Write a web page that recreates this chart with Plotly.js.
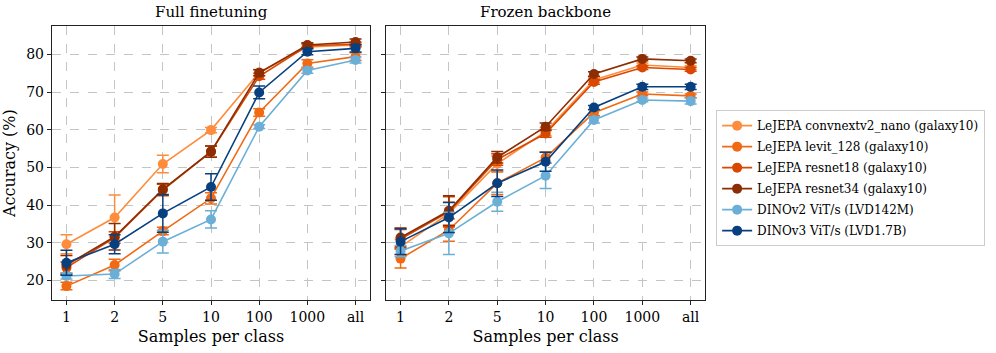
<!DOCTYPE html>
<html><head><meta charset="utf-8">
<script src="https://cdn.plot.ly/plotly-3.0.1.min.js"></script>
<style>body{margin:0;background:#fff}#plot{width:996px;height:353px}</style>
</head><body><div id="plot"></div>
<script>
const categories = ["1","2","5","10","100","1000","all"];
const seriesNames = ["LeJEPA convnextv2_nano (galaxy10)","LeJEPA levit_128 (galaxy10)","LeJEPA resnet18 (galaxy10)","LeJEPA resnet34 (galaxy10)","DINOv2 ViT/s (LVD142M)","DINOv3 ViT/s (LVD1.7B)"];
const colors = ["#fd8d3c","#f16913","#d94801","#8c2d04","#6baed6","#08407f"];

// Full finetuning
const ftConvnext = [29.6,36.7,50.9,59.9,75.2,82.0,82.5];
const ftLevit    = [18.5,24.1,33.1,41.8,64.6,77.6,79.4];
const ftRes18    = [23.4,31.4,44.0,54.2,74.2,82.3,82.7];
const ftRes34    = [24.1,31.6,44.2,54.2,75.1,82.5,83.3];
const ftDino2    = [21.2,21.7,30.3,36.2,60.8,75.7,78.5];
const ftDino3    = [24.7,29.6,37.8,44.8,69.9,80.7,81.6];
const ftConvnextErr = [2.5,6.0,2.3,0.7,0.8,0.6,0.6];
const ftLevitErr    = [1.0,1.5,1.0,1.5,1.0,1.0,1.0];
const ftRes18Err    = [1.5,1.5,1.5,1.5,0.8,0.6,0.6];
const ftRes34Err    = [2.5,3.5,1.5,1.5,0.8,0.6,0.8];
const ftDino2Err    = [0.8,1.2,3.0,2.3,0.5,0.7,0.8];
const ftDino3Err    = [3.3,2.5,5.0,3.5,1.7,0.8,1.0];

// Frozen backbone
const fzConvnext = [28.9,37.8,51.0,59.5,73.2,77.2,76.5];
const fzLevit    = [25.8,33.4,45.8,52.6,64.5,69.5,69.0];
const fzRes18    = [31.0,38.2,52.1,59.0,72.7,76.5,76.0];
const fzRes34    = [31.4,38.5,52.7,60.8,74.8,78.8,78.3];
const fzDino2    = [27.8,32.5,40.9,47.8,62.6,67.9,67.6];
const fzDino3    = [30.3,36.7,45.8,51.5,65.9,71.4,71.4];
const fzConvnextErr = [2.0,3.0,2.0,1.0,0.6,0.5,0.5];
const fzLevitErr    = [2.5,3.0,3.0,1.5,0.8,0.5,0.5];
const fzRes18Err    = [2.5,4.0,1.5,1.0,0.6,0.5,0.5];
const fzRes34Err    = [2.5,4.0,1.5,1.0,0.6,0.5,0.5];
const fzDino2Err    = [1.5,5.6,2.5,3.4,0.8,0.5,0.8];
const fzDino3Err    = [3.4,4.0,3.5,2.5,0.5,0.7,0.7];

const ftVals = [ftConvnext,ftLevit,ftRes18,ftRes34,ftDino2,ftDino3];
const ftErrs = [ftConvnextErr,ftLevitErr,ftRes18Err,ftRes34Err,ftDino2Err,ftDino3Err];
const fzVals = [fzConvnext,fzLevit,fzRes18,fzRes34,fzDino2,fzDino3];
const fzErrs = [fzConvnextErr,fzLevitErr,fzRes18Err,fzRes34Err,fzDino2Err,fzDino3Err];

const traces = [];
function add(vals, errs, xa, ya, show){
  for(let i=0;i<seriesNames.length;i++){
    traces.push({
      x: categories, y: vals[i], type:'scatter', mode:'lines+markers',
      name: seriesNames[i], legendgroup: 'g'+i, showlegend: show,
      xaxis: xa, yaxis: ya,
      line:{color:colors[i], width:1.6},
      marker:{color:colors[i], size:10},
      error_y:{type:'data', array: errs[i], visible:true, color:colors[i], thickness:1.5, width:6}
    });
  }
}
add(ftVals, ftErrs, 'x', 'y', true);
add(fzVals, fzErrs, 'x2', 'y2', false);

const font = {family:'DejaVu Serif', color:'#000'};
const xBase = {type:'category', categoryorder:'array', categoryarray:categories, range:[-0.3,6.3],
  automargin:false,
  showline:true, mirror:true, linecolor:'#222', linewidth:1.2, ticks:'outside', ticklen:4, tickcolor:'#222',
  showgrid:true, gridcolor:'#c4c4c4', griddash:'dash', gridwidth:1, zeroline:false,
  tickfont:{...font, size:14}, title:{text:'Samples per class', font:{...font, size:16}, standoff:6}};
const yBase = {range:[14.8,87.5], tickvals:[20,30,40,50,60,70,80], automargin:false,
  showline:true, mirror:true, linecolor:'#222', linewidth:1.2, ticks:'outside', ticklen:4, tickcolor:'#222',
  showgrid:true, gridcolor:'#c4c4c4', griddash:'dash', gridwidth:1, zeroline:false,
  tickfont:{...font, size:14}};

const layout = {
  width:996, height:353, margin:{l:0,r:0,t:0,b:0}, paper_bgcolor:'#fff', plot_bgcolor:'#fff',
  font: font,
  xaxis: {...xBase, domain:[0.0522,0.3715], anchor:'y'},
  xaxis2: {...xBase, domain:[0.3876,0.708], anchor:'y2'},
  yaxis: {...yBase, domain:[0.15,0.926], anchor:'x', title:{text:'Accuracy (%)', font:{...font, size:16}, standoff:10}},
  yaxis2: {...yBase, domain:[0.15,0.926], anchor:'x2', showticklabels:false},
  showlegend:true,
  legend:{x:0.719, y:0.688, xanchor:'left', yanchor:'top', bordercolor:'#cccccc', borderwidth:1, bgcolor:'#fff',
    font:{...font, size:12}, tracegroupgap:2},
  annotations:[
    {text:'Full finetuning', xref:'paper', yref:'paper', x:(0.0522+0.3715)/2, y:0.935, xanchor:'center', yanchor:'bottom', showarrow:false, font:{...font,size:15}},
    {text:'Frozen backbone', xref:'paper', yref:'paper', x:(0.3876+0.708)/2, y:0.935, xanchor:'center', yanchor:'bottom', showarrow:false, font:{...font,size:15}}
  ]
};
Plotly.newPlot('plot', traces, layout, {displayModeBar:false, staticPlot:true});
</script>
</body></html>
